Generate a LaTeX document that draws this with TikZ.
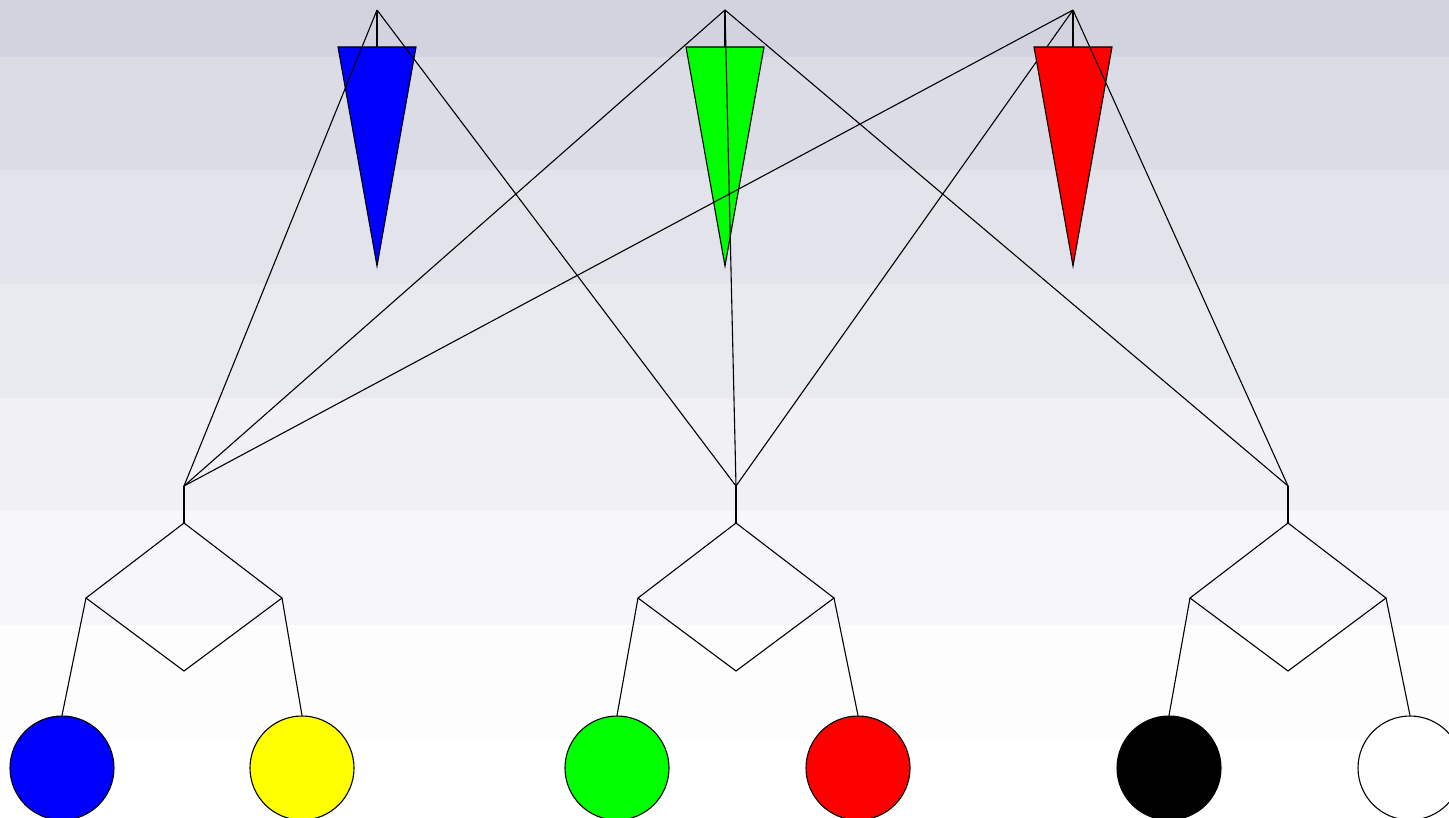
\documentclass[tikz,border=0pt]{standalone}
\definecolor{bandA}{RGB}{211,211,224}
\definecolor{bandB}{RGB}{220,220,230}
\definecolor{bandC}{RGB}{227,227,235}
\definecolor{bandD}{RGB}{233,233,240}
\definecolor{bandE}{RGB}{240,240,245}
\definecolor{bandF}{RGB}{247,247,249}
\definecolor{bandG}{RGB}{253,253,254}
\definecolor{pureblue}{RGB}{0,0,255}
\definecolor{puregreen}{RGB}{0,255,0}
\definecolor{purered}{RGB}{255,0,0}
\definecolor{pureyellow}{RGB}{255,255,0}
\begin{document}
\begin{tikzpicture}[x=0.5pt,y=-0.5pt,
  edge/.style={black,line width=0.55pt},
  tri/.style={draw=black,line width=0.55pt,line join=miter},
  ball/.style={circle,draw=black,line width=0.55pt,minimum size=52pt,inner sep=0pt},
  diam/.style={draw=black,line width=0.55pt,fill=none}]
\useasboundingbox (0,0) rectangle (1449,818);
% background bands
\fill[bandA] (0,0) rectangle (1449,57);
\fill[bandB] (0,57) rectangle (1449,170.5);
\fill[bandC] (0,170.5) rectangle (1449,284);
\fill[bandD] (0,284) rectangle (1449,397.5);
\fill[bandE] (0,397.5) rectangle (1449,511);
\fill[bandF] (0,511) rectangle (1449,624.5);
\fill[bandG] (0,624.5) rectangle (1449,738);
\fill[white] (0,738) rectangle (1449,818);
% parent apexes
\coordinate (p1) at (377,10);
\coordinate (p2) at (725,10);
\coordinate (p3) at (1073,10);
\foreach \n/\x in {1/377,2/725,3/1073}{
  \coordinate (p\n s) at (\x,47);
  \coordinate (p\n l) at (\x-39,47);
  \coordinate (p\n r) at (\x+39,47);
  \coordinate (p\n b) at (\x,266);
}
% child tops and diamonds
\foreach \n/\x in {1/184,2/736,3/1288}{
  \coordinate (c\n) at (\x,486);
  \coordinate (c\n t) at (\x,523);
  \coordinate (c\n l) at (\x-98,598);
  \coordinate (c\n b) at (\x,671);
  \coordinate (c\n r) at (\x+98,598);
}
% leaves
\node[ball,fill=pureblue] (k1) at (62,768) {};
\node[ball,fill=pureyellow] (k2) at (302,768) {};
\node[ball,fill=puregreen] (k3) at (617,768) {};
\node[ball,fill=purered] (k4) at (858,768) {};
\node[ball,fill=black] (k5) at (1169,768) {};
\node[ball,fill=white] (k6) at (1410,768) {};
% stems of parents
\draw[edge] (p1) -- (p1s);
\draw[edge] (p2) -- (p2s);
\draw[edge] (p3) -- (p3s);
% blue and green triangles
\draw[tri,fill=pureblue] (p1l) -- (p1r) -- (p1b) -- cycle;
\draw[tri,fill=puregreen] (p2l) -- (p2r) -- (p2b) -- cycle;
% edges to first and second child
\draw[edge] (p1) -- (c1);
\draw[edge] (p2) -- (c1);
\draw[edge] (p3) -- (c1);
\draw[edge] (p1) -- (c2);
\draw[edge] (p2) -- (c2);
\draw[edge] (p3) -- (c2);
% red triangle
\draw[tri,fill=purered] (p3l) -- (p3r) -- (p3b) -- cycle;
% edges to third child
\draw[edge] (p2) -- (c3);
\draw[edge] (p3) -- (c3);
% child stems, diamonds and leaf links
\foreach \n/\a/\b in {1/k1/k2,2/k3/k4,3/k5/k6}{
  \draw[edge] (c\n) -- (c\n t);
  \draw[diam] (c\n t) -- (c\n r) -- (c\n b) -- (c\n l) -- cycle;
  \draw[edge] (c\n l) -- (\a.north);
  \draw[edge] (c\n r) -- (\b.north);
}
\end{tikzpicture}
\end{document}
